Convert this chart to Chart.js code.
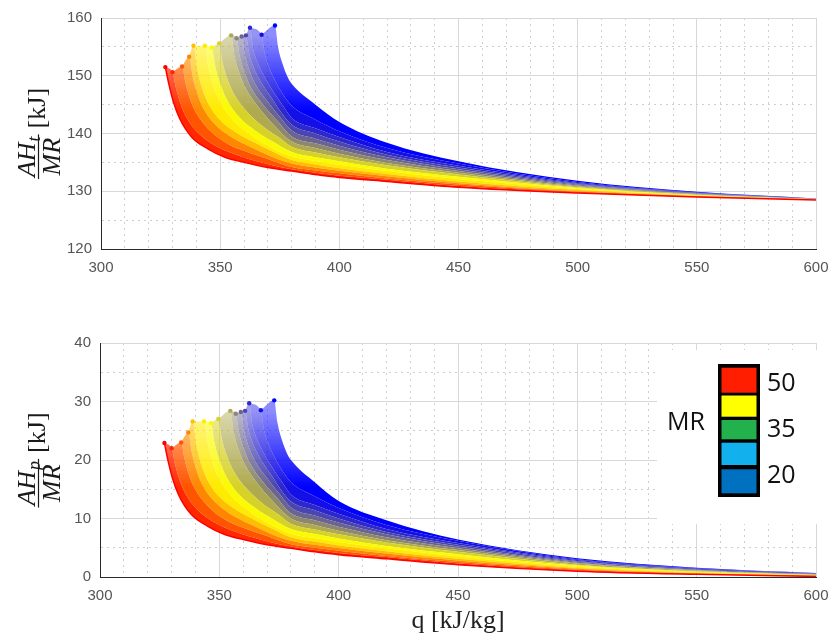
<!DOCTYPE html>
<html lang="en">
<head>
<meta charset="UTF-8">
<title>AH / MR vs q</title>
<script src="https://cdn.jsdelivr.net/npm/chart.js@4.4.1/dist/chart.umd.min.js"></script>
<style>
  body { margin: 0; background: #fff; }
  canvas { position: absolute; left: 0; }
</style>
</head>
<body>
<canvas id="chartTop" width="834" height="290" style="top:0"></canvas>
<canvas id="chartBottom" width="834" height="340" style="top:300px"></canvas>
<script>
// ---- data: one curve per MR step, MR = 50 (red) ... 20 (blue)
const TAIL_Q = [380, 390, 400, 420, 450, 500, 550, 600];

const HEAD_Q = [
  [327, 328.5, 330.5, 333, 338, 345, 352, 360, 370],
  [330, 331.5, 333.5, 336, 341, 348, 355, 362, 371],
  [334, 335.5, 337.5, 340, 345, 352, 360, 370],
  [337, 338.5, 340.5, 343, 348, 355, 363, 371],
  [338.8, 340.3, 342.3, 345, 350, 357, 365, 372],
  [343.6, 345, 347, 350, 355, 362, 370],
  [346.5, 348, 350, 353, 358, 365, 372],
  [349.6, 351, 353, 356, 361, 368, 375],
  [354.6, 356, 358, 361, 366, 372],
  [356.9, 358.3, 360.3, 363, 368, 374],
  [359, 360.4, 362.4, 365, 370, 375],
  [360.8, 362.2, 364.2, 367, 372, 376],
  [362.5, 363.8, 365.8, 368.5, 373, 377],
  [367.4, 368.7, 370.5, 373, 376.5],
  [373, 374.3, 376, 378.5]
];

// upper panel: AH_t / MR [kJ]
const TOP_HEAD_Y = [
  [151.5, 148.5, 145.3, 142.6, 139.4, 137.3, 135.9, 135.0, 134.1],
  [150.6, 147.8, 145.0, 142.7, 140.0, 137.9, 136.6, 135.6, 134.6],
  [151.6, 148.6, 145.8, 143.5, 140.8, 138.5, 137.0, 135.6],
  [153.3, 149.8, 146.8, 144.3, 141.5, 139.3, 137.6, 136.1],
  [155.2, 151.3, 148.0, 145.2, 142.3, 140.1, 138.3, 136.9],
  [155.2, 151.6, 148.4, 145.4, 142.5, 140.0, 137.9],
  [154.9, 151.5, 148.6, 145.7, 142.8, 140.4, 138.6],
  [155.6, 152.3, 149.5, 146.7, 143.9, 141.2, 139.2],
  [157.0, 153.4, 150.5, 147.6, 144.6, 141.7],
  [156.5, 153.2, 150.5, 147.9, 145.0, 142.2],
  [156.8, 153.5, 150.8, 148.4, 145.5, 142.9],
  [157.0, 153.8, 151.3, 149.0, 145.9, 143.4],
  [158.3, 154.7, 152.2, 149.9, 146.8, 144.4],
  [157.1, 153.8, 151.5, 149.2, 146.7],
  [158.7, 155.0, 152.3, 149.6]
];
const TOP_TAIL_Y = [
  [133.5, 132.9, 132.4, 131.7, 130.7, 129.7, 129.0, 128.5],
  [133.8, 133.2, 132.7, 132.0, 130.9, 129.8, 129.05, 128.5],
  [134.2, 133.6, 133.1, 132.2, 131.15, 129.9, 129.1, 128.55],
  [134.8, 134.1, 133.55, 132.6, 131.4, 130.0, 129.15, 128.55],
  [135.4, 134.65, 134.0, 133.0, 131.7, 130.2, 129.2, 128.6],
  [136.0, 135.25, 134.6, 133.5, 132.1, 130.4, 129.3, 128.6],
  [136.8, 135.9, 135.2, 133.9, 132.5, 130.55, 129.35, 128.6],
  [137.7, 136.7, 135.9, 134.5, 132.9, 130.7, 129.4, 128.65],
  [138.6, 137.5, 136.5, 134.9, 133.2, 130.85, 129.5, 128.65],
  [139.5, 138.3, 137.2, 135.4, 133.5, 131.0, 129.55, 128.65],
  [140.5, 139.1, 137.9, 135.9, 133.8, 131.15, 129.6, 128.7],
  [141.5, 140.0, 138.6, 136.3, 134.1, 131.3, 129.7, 128.7],
  [142.7, 140.9, 139.4, 136.8, 134.4, 131.45, 129.75, 128.7],
  [144.8, 142.4, 140.4, 137.5, 134.8, 131.6, 129.8, 128.75],
  [148.6, 145.0, 142.0, 138.4, 135.2, 131.8, 129.9, 128.75]
];

// lower panel: AH_p / MR [kJ]
const BOT_HEAD_Y = [
  [22.9, 19.9, 16.7, 14.0, 10.8, 8.7, 7.3, 6.4, 5.5],
  [22.0, 19.2, 16.4, 14.1, 11.4, 9.3, 8.0, 7.0, 6.0],
  [23.0, 20.0, 17.2, 14.9, 12.2, 9.9, 8.4, 7.0],
  [24.7, 21.2, 18.2, 15.7, 12.9, 10.7, 9.0, 7.5],
  [26.6, 22.7, 19.4, 16.6, 13.7, 11.5, 9.7, 8.3],
  [26.6, 23.0, 19.8, 16.8, 13.9, 11.4, 9.3],
  [26.3, 22.9, 20.0, 17.1, 14.2, 11.8, 10.0],
  [27.0, 23.7, 20.9, 18.1, 15.3, 12.6, 10.6],
  [28.4, 24.8, 21.9, 19.0, 16.0, 13.1],
  [27.9, 24.6, 21.9, 19.3, 16.4, 13.6],
  [28.2, 24.9, 22.2, 19.8, 16.9, 14.3],
  [28.4, 25.2, 22.7, 20.4, 17.3, 14.8],
  [29.7, 26.1, 23.6, 21.3, 18.2, 15.8],
  [28.5, 25.2, 22.9, 20.6, 18.1],
  [30.2, 26.5, 23.7, 21.0]
];
const BOT_TAIL_Y = [
  [4.9, 4.3, 3.8, 3.1, 2.1, 1.0, 0.45, 0.1],
  [5.2, 4.6, 4.1, 3.4, 2.3, 1.1, 0.5, 0.15],
  [5.6, 5.0, 4.5, 3.6, 2.55, 1.25, 0.55, 0.2],
  [6.2, 5.5, 4.95, 4.0, 2.8, 1.4, 0.6, 0.2],
  [6.8, 6.05, 5.4, 4.4, 3.1, 1.55, 0.7, 0.25],
  [7.4, 6.65, 6.0, 4.9, 3.5, 1.75, 0.8, 0.3],
  [8.2, 7.35, 6.6, 5.3, 3.9, 1.95, 0.9, 0.35],
  [9.1, 8.1, 7.3, 5.9, 4.3, 2.1, 1.0, 0.4],
  [10.0, 8.9, 7.9, 6.3, 4.6, 2.3, 1.1, 0.4],
  [10.9, 9.7, 8.6, 6.8, 4.9, 2.45, 1.15, 0.45],
  [11.9, 10.5, 9.3, 7.3, 5.2, 2.6, 1.25, 0.5],
  [12.9, 11.4, 10.0, 7.7, 5.5, 2.75, 1.3, 0.55],
  [14.1, 12.3, 10.8, 8.2, 5.8, 2.9, 1.4, 0.6],
  [16.2, 13.8, 11.8, 8.9, 6.2, 3.05, 1.5, 0.65],
  [20.0, 16.2, 13.0, 9.7, 6.4, 3.2, 1.6, 0.7]
];

const LEGEND_TITLE = 'MR';
const LEGEND_LABELS = ['50', '35', '20'];

// ---- styles
const CURVE_COLORS = [
  [255, 0, 0], [255, 40, 0], [255, 85, 0], [255, 135, 0], [255, 190, 0],
  [255, 235, 0], [250, 250, 0], [215, 210, 40], [175, 170, 80], [140, 135, 110],
  [105, 100, 145], [75, 70, 175], [45, 40, 205], [20, 15, 230], [0, 0, 255]
];
const LEGEND_COLORS = ['#ff1e00', '#ffff00', '#22b14c', '#13b0ee', '#0070c0'];
const TICK_FONT = { family: 'Liberation Sans', size: 15 };
const TICK_COLOR = '#555';
const MAJOR_GRID = '#d8d8d8';
const MINOR_GRID = '#cfcfcf';
const AXIS_COLOR = '#2a2a2a';

const rgb = (c, a) => `rgba(${c[0]},${c[1]},${c[2]},${a})`;

// colour fades towards the sparse top of the point cloud
function fadeColor(c, fade) {
  return ctx => {
    const chart = ctx.chart;
    const ys = chart.scales && chart.scales.y;
    if (!chart.chartArea || !ys) return rgb(c, 1);
    const g = chart.ctx.createLinearGradient(0, ys.getPixelForValue(fade[0]), 0, ys.getPixelForValue(fade[1]));
    g.addColorStop(0, rgb(c, 1));
    g.addColorStop(1, rgb(c, 0.45));
    return g;
  };
}

function buildDatasets(headY, tailY, fade) {
  return HEAD_Q.map((hq, k) => {
    const pts = hq.map((q, i) => ({ x: q, y: headY[k][i] }));
    TAIL_Q.forEach((q, i) => pts.push({ x: q, y: tailY[k][i] }));
    // join the top of the previous curve so the upper edge is closed
    if (k > 0) pts.unshift({ x: HEAD_Q[k - 1][0], y: headY[k - 1][0] });
    const startIdx = k > 0 ? 1 : 0;
    return {
      data: pts,
      borderColor: rgb(CURVE_COLORS[k], 1),
      backgroundColor: fadeColor(CURVE_COLORS[k], fade),
      borderWidth: k === 0 ? 1.5 : 0,
      fill: k === 0 ? false : '-1',
      cubicInterpolationMode: 'monotone',
      pointRadius: ctx => ctx.dataIndex === startIdx ? 2.2 : 0,
      pointBackgroundColor: rgb(CURVE_COLORS[k], 1),
      pointBorderWidth: 0
    };
  });
}

// y axis label drawn as a fraction  AH_x / MR  [kJ]
function fracLabel(sub) {
  return {
    id: 'fracLabel',
    afterDraw(chart) {
      const ctx = chart.ctx;
      const a = chart.chartArea;
      const barX = 38.5;
      const cy = (a.top + a.bottom) / 2;
      const it = '26px "Liberation Serif"';
      ctx.save();
      ctx.translate(barX, cy);
      ctx.rotate(-Math.PI / 2);
      ctx.fillStyle = '#1a1a1a';
      ctx.strokeStyle = '#1a1a1a';
      ctx.font = 'italic ' + it;
      const wAH = ctx.measureText('AH').width;
      const wMR = ctx.measureText('MR').width;
      ctx.font = 'italic 18px "Liberation Serif"';
      const wSub = ctx.measureText(sub).width;
      ctx.font = it;
      const wKJ = ctx.measureText('[kJ]').width;
      const numW = wAH + wSub + 1;
      const fracW = Math.max(numW, wMR) + 4;
      const gap = 6;
      const u0 = -(fracW + gap + wKJ) / 2;
      ctx.textBaseline = 'alphabetic';
      ctx.font = 'italic ' + it;
      const nx = u0 + (fracW - numW) / 2;
      ctx.fillText('AH', nx, -4);
      ctx.font = 'italic 18px "Liberation Serif"';
      ctx.fillText(sub, nx + wAH + 1, 1);
      ctx.lineWidth = 1.2;
      ctx.beginPath();
      ctx.moveTo(u0, 0);
      ctx.lineTo(u0 + fracW, 0);
      ctx.stroke();
      ctx.font = 'italic ' + it;
      ctx.fillText('MR', u0 + (fracW - wMR) / 2, 21);
      ctx.font = it;
      ctx.fillText('[kJ]', u0 + fracW + gap, 6.5);
      ctx.restore();
    }
  };
}

// MR colour legend in the lower panel
const mrLegend = {
  id: 'mrLegend',
  afterDraw(chart) {
    const ctx = chart.ctx;
    ctx.save();
    ctx.fillStyle = '#fff';
    ctx.fillRect(657, 50, 170, 174);
    ctx.fillStyle = '#000';
    ctx.fillRect(718, 64, 42, 133);
    const blocks = [[67.7, 92.7], [95.5, 116.7], [120, 139.3], [142.7, 165], [169.3, 193.3]];
    blocks.forEach((b, i) => {
      ctx.fillStyle = LEGEND_COLORS[i];
      ctx.fillRect(721.5, b[0], 35, b[1] - b[0]);
    });
    ctx.fillStyle = '#111';
    ctx.font = '25px "Open Sans"';
    ctx.textBaseline = 'middle';
    ctx.textAlign = 'center';
    ctx.fillText(LEGEND_TITLE, 686, 123);
    ctx.textAlign = 'left';
    [83.5, 130, 176].forEach((y, i) => ctx.fillText(LEGEND_LABELS[i], 767, y));
    ctx.restore();
  }
};

function makeConfig(datasets, yMin, yMax, yWidth, xHeight, padTop, xTitle, plugins) {
  return {
    type: 'line',
    data: { datasets },
    options: {
      responsive: false,
      animation: false,
      layout: { padding: { top: padTop, right: 18, left: 0, bottom: 0 } },
      plugins: { legend: { display: false }, tooltip: { enabled: false } },
      scales: {
        x: {
          type: 'linear', min: 300, max: 600,
          afterFit: s => { s.height = xHeight; s.paddingLeft = 0; s.paddingRight = 0; },
          ticks: {
            stepSize: 10, autoSkip: false, maxRotation: 0, padding: 10,
            font: TICK_FONT, color: TICK_COLOR,
            callback: v => v % 50 === 0 ? String(v) : ''
          },
          grid: {
            drawTicks: false,
            color: c => (c.tick && c.tick.value % 50 !== 0) ? MINOR_GRID : MAJOR_GRID
          },
          border: {
            color: AXIS_COLOR, width: 1,
            dash: c => (c.tick && c.tick.value % 50 !== 0) ? [2, 4] : []
          },
          title: xTitle
        },
        y: {
          min: yMin, max: yMax,
          afterFit: s => { s.width = yWidth; },
          ticks: {
            stepSize: 5, autoSkip: false, padding: 9,
            font: TICK_FONT, color: TICK_COLOR,
            callback: v => v % 10 === 0 ? String(v) : ''
          },
          grid: {
            drawTicks: false,
            color: c => (c.tick && c.tick.value % 10 !== 0) ? MINOR_GRID : MAJOR_GRID
          },
          border: {
            color: AXIS_COLOR, width: 1,
            dash: c => (c.tick && c.tick.value % 10 !== 0) ? [2, 4] : []
          }
        }
      }
    },
    plugins
  };
}

new Chart(document.getElementById('chartTop'),
  makeConfig(buildDatasets(TOP_HEAD_Y, TOP_TAIL_Y, [144, 157]), 120, 160, 101, 41, 15,
    { display: false }, [fracLabel('t')]));

new Chart(document.getElementById('chartBottom'),
  makeConfig(buildDatasets(BOT_HEAD_Y, BOT_TAIL_Y, [15.4, 28.4]), 0, 40, 100, 63, 43,
    { display: true, text: 'q [kJ/kg]', color: '#222',
      font: { family: 'Liberation Serif', size: 26 }, padding: { top: 0, bottom: 3 } },
    [fracLabel('p'), mrLegend]));
</script>
</body>
</html>
